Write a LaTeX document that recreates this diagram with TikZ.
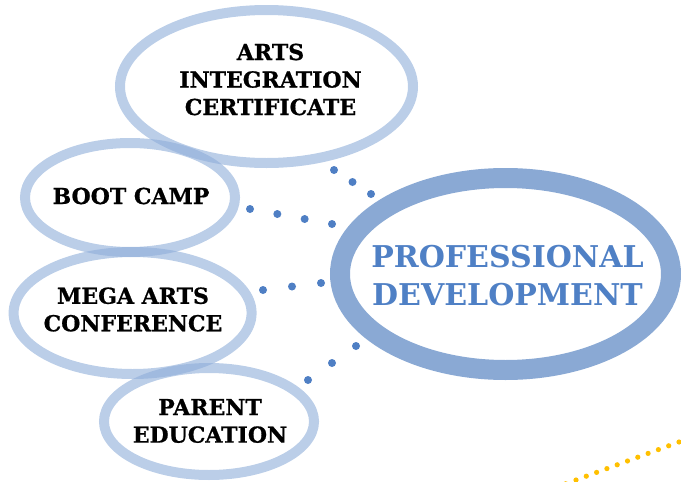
\documentclass[tikz,border=0pt]{standalone}
\usepackage{fontspec}
\setmainfont{DejaVu Serif}
\newfontfamily\heavyfont{DejaVu Serif Bold}[FakeBold=0.8]
\usetikzlibrary{shapes.geometric,calc}
\definecolor{ringlight}{HTML}{8EADD9}
\definecolor{ringdark}{HTML}{8AA9D4}
\definecolor{dotblue}{HTML}{4F7FC4}
\definecolor{titleblue}{HTML}{4F80C5}
\definecolor{gold}{HTML}{FFC000}
\begin{document}
\begin{tikzpicture}[x=1pt,y=-1pt,
  ring/.style={ellipse, draw=ringlight, draw opacity=0.6, line width=10pt, inner sep=0pt},
  bigring/.style={ellipse, draw=ringdark, line width=20pt, inner sep=0pt},
  itemtext/.style={font=\heavyfont\fontsize{22}{27.5}\selectfont, align=center, text=black, inner sep=0pt},
  titletext/.style={font=\bfseries\fontsize{30}{38}\selectfont, align=center, text=titleblue, inner sep=0pt},
  bluedot/.style={fill=dotblue},
  golddot/.style={fill=gold}]
\useasboundingbox (0,0) rectangle (681,482);

% rings around the topics
\node[ring, minimum width=293pt, minimum height=153pt] (aic) at (266.5,86.5) {};
\node[ring, minimum width=210pt, minimum height=109pt] (boot) at (130,197.5) {};
\node[ring, minimum width=238pt, minimum height=122pt] (mega) at (132.6,313) {};
\node[ring, minimum width=210pt, minimum height=107pt] (parent) at (209,421.5) {};
\node[bigring, minimum width=331pt, minimum height=192pt] (pd) at (505.5,274) {};

% topic texts
\node[itemtext] (aicT) at (270.5,79.5) {ARTS\\INTEGRATION\\CERTIFICATE};
\node[itemtext] (bootT) at (131,196) {BOOT CAMP};
\node[itemtext] (megaT) at (133,309.5) {MEGA ARTS\\CONFERENCE};
\node[itemtext] (parentT) at (210,421) {PARENT\\EDUCATION};
\node[titletext] (pdT) at (507.5,276) {PROFESSIONAL\\DEVELOPMENT};

% dotted links towards the central ring
\coordinate (d1a) at (334,170); \coordinate (d1b) at (371,194);
\coordinate (d2a) at (250,209); \coordinate (d2b) at (332,224);
\coordinate (d3a) at (263,290); \coordinate (d3b) at (321,283);
\coordinate (d4a) at (308,380); \coordinate (d4b) at (356,346);
\foreach \s/\e/\n in {d1a/d1b/2, d2a/d2b/3, d3a/d3b/2, d4a/d4b/2}
  \foreach \i in {0,...,\n}
    \fill[bluedot] ($(\s)!{\i/\n}!(\e)$) circle (4pt);

% golden dotted line in the corner
\coordinate (g1) at (576,480); \coordinate (g2) at (679,442);
\foreach \i in {-1,...,11}
  \fill[golddot] ($(g1)!{\i/10}!(g2)$) circle (2.6pt);
\end{tikzpicture}
\end{document}
